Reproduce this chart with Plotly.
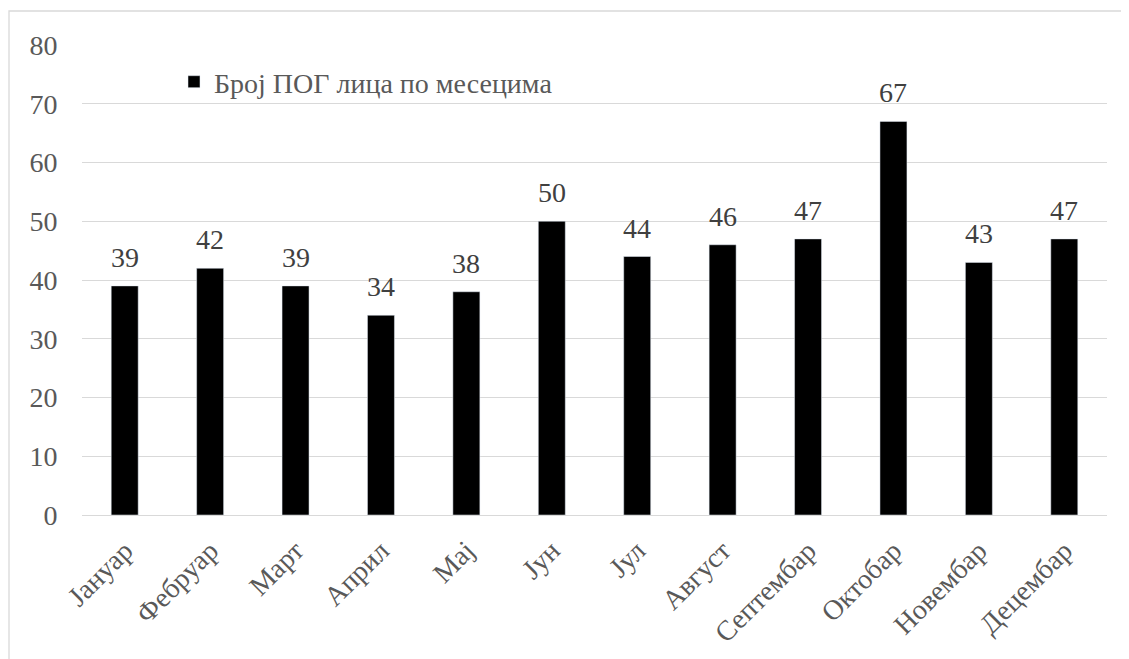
import plotly.graph_objects as go

months = ["Јануар", "Фебруар", "Март", "Април", "Мај", "Јун", "Јул", "Август",
          "Септембар", "Октобар", "Новембар", "Децембар"]
counts = [39, 42, 39, 34, 38, 50, 44, 46, 47, 67, 43, 47]
series_name = "Број ПОГ лица по месецима"
y_ticks = [0, 10, 20, 30, 40, 50, 60, 70, 80]

FONT = "Liberation Serif, Times New Roman, serif"
FS = 28

fig = go.Figure()
fig.add_trace(go.Bar(
    x=months, y=counts, name=series_name,
    marker=dict(color="#000000"),
    showlegend=True,
))

# data labels, placed via the axes from the data
for m, v in zip(months, counts):
    fig.add_annotation(x=m, y=v, text=str(v), showarrow=False, yanchor="bottom",
                       yshift=11, font=dict(family=FONT, size=FS, color="#404040"))

# page body has an 8px offset; compensate
OFF = 8
L, R, T, B = 82 - OFF, 30, 45 - OFF, 152
W, H = 1129, 659
pw, ph = W - L - R, H - T - B

fig.update_layout(
    width=W, height=H,
    margin=dict(l=L, r=R, t=T, b=B),
    paper_bgcolor="white", plot_bgcolor="white",
    bargap=0.684,
    font=dict(family=FONT, size=FS, color="#595959"),
    showlegend=True,
    legend=dict(x=(174 - OFF - L) / pw, y=1 - (82 - 45) / ph, xanchor="left", yanchor="middle",
                bgcolor="rgba(0,0,0,0)", font=dict(family=FONT, size=FS, color="#595959"),
                itemwidth=30),
    xaxis=dict(tickangle=-45, showgrid=False, showline=False, ticks="outside", ticklen=7,
               tickcolor="rgba(0,0,0,0)",
               tickfont=dict(family=FONT, size=FS, color="#595959")),
    yaxis=dict(range=[0, 80], tickvals=y_ticks, showgrid=True, gridcolor="#d9d9d9",
               gridwidth=1.3, zeroline=True, zerolinecolor="#d9d9d9", zerolinewidth=1.3,
               showline=False, ticks="outside", ticklen=18, tickcolor="rgba(0,0,0,0)",
               tickfont=dict(family=FONT, size=FS, color="#595959")),
    shapes=[dict(type="rect", xref="paper", yref="paper",
                 x0=(9 - OFF - L) / pw, x1=1.2, y0=-0.5, y1=1 + (45 - 11) / ph,
                 line=dict(color="#d9d9d9", width=1.3), fillcolor="rgba(0,0,0,0)",
                 layer="below")],
)

fig.write_html("out.html")
